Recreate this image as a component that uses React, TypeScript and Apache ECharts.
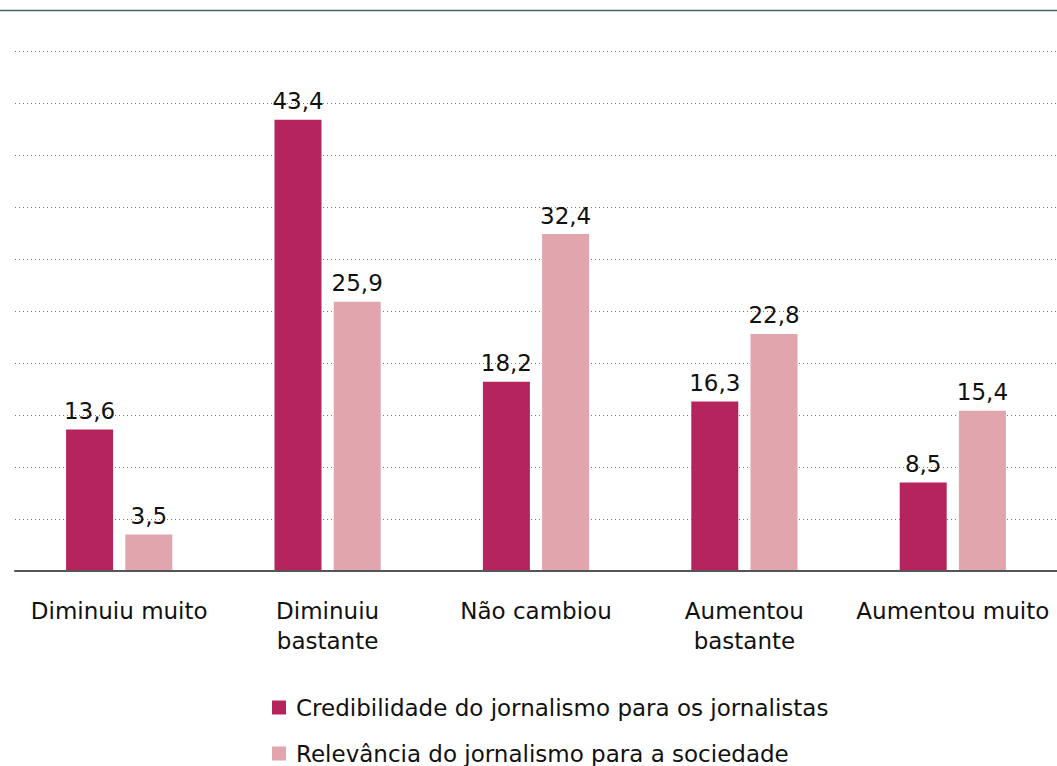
import React, { useEffect, useRef } from "react";
import * as echarts from "echarts";

const categories = ["Diminuiu muito", "Diminuiu\nbastante", "Não cambiou", "Aumentou\nbastante", "Aumentou muito"];
const credibilidade = [13.6, 43.4, 18.2, 16.3, 8.5];
const relevancia = [3.5, 25.9, 32.4, 22.8, 15.4];
const seriesNames = ["Credibilidade do jornalismo para os jornalistas", "Relevância do jornalismo para a sociedade"];

const FONT = "'DejaVu Sans', sans-serif";

export default function App() {
  const ref = useRef<HTMLDivElement>(null);
  useEffect(() => {
    if (!ref.current) return;
    const chart = echarts.init(ref.current, undefined, { renderer: "svg" });
    const fmt = (p: any) => String(p.value).replace(".", ",");
    const labelStyle = { show: true, position: "top", distance: 7, fontSize: 23, color: "#111", formatter: fmt, fontFamily: FONT };
    chart.setOption({
      animation: false,
      textStyle: { fontFamily: FONT },
      grid: { left: 15, right: 0, top: 51, bottom: 195 },
      xAxis: {
        type: "category",
        data: categories,
        axisTick: { show: false },
        axisLine: { show: true, onZero: false, lineStyle: { color: "#555", width: 2 } },
        axisLabel: { color: "#111", fontSize: 23, lineHeight: 30, margin: 25, fontFamily: FONT, interval: 0 },
        z: 10,
      },
      yAxis: {
        type: "value",
        min: 0,
        max: 50,
        interval: 5,
        axisLabel: { show: false },
        axisLine: { show: false },
        axisTick: { show: false },
        splitLine: { lineStyle: { color: "#777", type: [1, 3], width: 1 } },
      },
      legend: {
        orient: "vertical",
        left: 272,
        top: 696,
        padding: 0,
        itemWidth: 14,
        itemHeight: 14,
        itemGap: 23,
        icon: "rect",
        textStyle: { fontSize: 23, lineHeight: 22, color: "#111", fontFamily: FONT, padding: [0, 0, 0, 5] },
        data: seriesNames,
      },
      series: [
        {
          name: seriesNames[0],
          type: "bar",
          data: credibilidade,
          barWidth: 47,
          barGap: "26%",
          itemStyle: { color: "#B5245C" },
          label: labelStyle,
        },
        {
          name: seriesNames[1],
          type: "bar",
          data: relevancia,
          barWidth: 47,
          barGap: "26%",
          itemStyle: { color: "#E0A5AD" },
          label: labelStyle,
        },
      ],
      graphic: [
        {
          type: "line",
          shape: { x1: 0, y1: 10.5, x2: 1057, y2: 10.5 },
          style: { stroke: "#4a6464", lineWidth: 1.5 },
        },
      ],
    });
    return () => chart.dispose();
  }, []);
  return (
    <div
      ref={ref}
      style={{ position: "fixed", left: 0, top: 0, width: 1057, height: 766, background: "#fff" }}
    />
  );
}
